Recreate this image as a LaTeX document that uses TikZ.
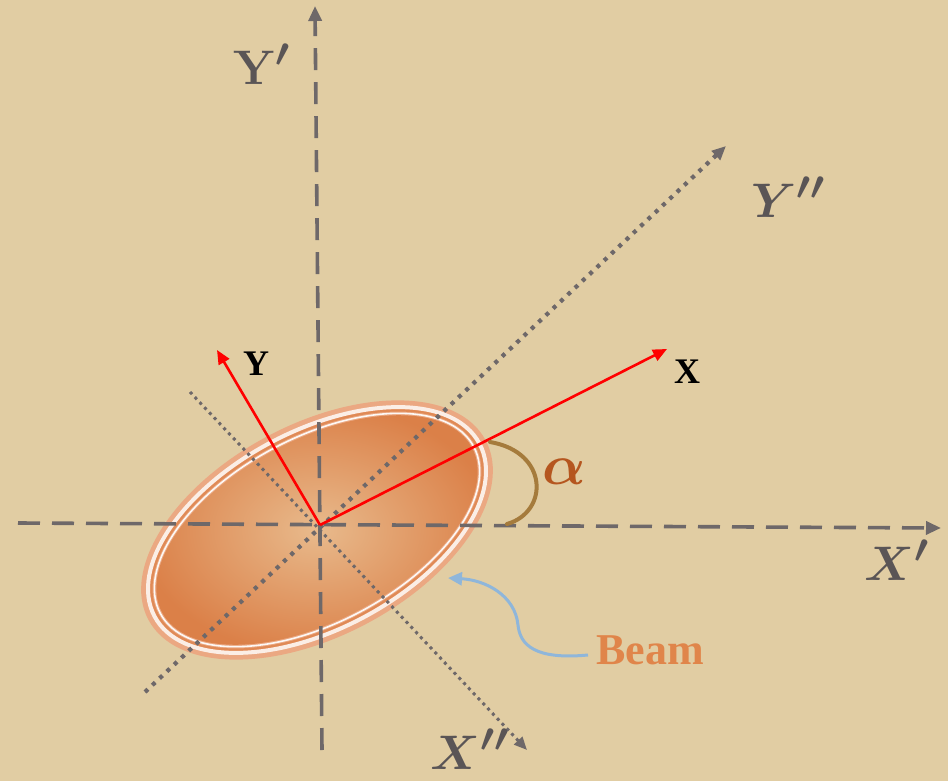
\documentclass[tikz,border=0pt]{standalone}
\usepackage{graphicx}
\usepackage{fontspec}
\newfontfamily\lblfont{Liberation Serif}
\usetikzlibrary{arrows.meta,shapes.geometric}
\definecolor{bg}{HTML}{E1CDA3}
\definecolor{axisgray}{HTML}{6E6869}
\definecolor{lblgray}{HTML}{5A5556}
\definecolor{glow}{HTML}{EBA882}
\definecolor{rimline}{HTML}{E08A56}
\definecolor{beamin}{HTML}{E8BA8C}
\definecolor{beamout}{HTML}{DB8048}
\definecolor{arccol}{HTML}{A57B3C}
\definecolor{alphacol}{HTML}{B5561F}
\definecolor{beamtxt}{HTML}{E0854A}
\definecolor{bluearrow}{HTML}{8FB6DA}
\newcommand{\biglbl}[1]{\scalebox{1.95}{\Huge\boldmath$#1$}}
\tikzset{
  axisdash/.style={draw=axisgray, line width=3.6pt, dash pattern=on 22pt off 12pt,
    -{Triangle[length=15pt,width=13pt]}},
  axisdotA/.style={draw=axisgray, line width=4.2pt, dash pattern=on 4pt off 6pt,
    -{Triangle[length=14pt,width=12pt]}},
  axisdotB/.style={draw=axisgray, line width=3pt, dash pattern=on 3pt off 4pt,
    -{Triangle[length=13pt,width=11pt]}},
  redvec/.style={draw=red, line width=2.6pt, -{Triangle[length=14pt,width=12pt]}},
  axislbl/.style={text=lblgray, inner sep=0pt},
  veclbl/.style={text=black, font=\lblfont\bfseries\fontsize{36}{40}\selectfont, inner sep=0pt},
  beamlayer/.style={ellipse, rotate=28, inner sep=0pt},
}
\begin{document}
\begin{tikzpicture}[x=1pt,y=-1pt]
\fill[bg] (0,0) rectangle (948,781);
\useasboundingbox (0,0) rectangle (948,781);

% beam ellipse layers
\node[beamlayer, fill=glow, minimum width=382pt, minimum height=212pt] (beamglow) at (317,530) {};
\node[beamlayer, draw=white!80!glow, line width=4pt, minimum width=368pt, minimum height=198pt] (beamhalo) at (317,530) {};
\node[beamlayer, draw=rimline, line width=2.2pt, minimum width=361pt, minimum height=191pt] (beamrim) at (317,530) {};
\node[beamlayer, draw=white!92!glow, line width=1.6pt, minimum width=355pt, minimum height=185pt] (beamwhite) at (317,530) {};
\node[beamlayer, inner color=beamin, outer color=beamout, minimum width=351pt, minimum height=181pt] (beamcore) at (317,530) {};

% coordinates
\coordinate (O) at (320,525);
\coordinate (ypb) at (322,750);
\coordinate (ypt) at (315,6);
\coordinate (xpl) at (18,523);
\coordinate (xpr) at (941,528);
\coordinate (yppb) at (145,692);
\coordinate (yppt) at (726,146);
\coordinate (xppt) at (190,392);
\coordinate (xppb) at (527,750);
\coordinate (xtip) at (667,349);
\coordinate (ytip) at (217,350);
\coordinate (arcs) at (490,442);
\coordinate (arce) at (507,524);
\coordinate (bls) at (588,655);
\coordinate (blm) at (518,625);
\coordinate (ble) at (448,578);

% axes
\draw[axisdash] (ypb) -- (ypt);
\draw[axisdash] (xpl) -- (xpr);
\draw[axisdotA] (yppb) -- (yppt);
\draw[axisdotB] (xppt) -- (xppb);

% red vectors
\draw[redvec] (O) -- (xtip);
\draw[redvec] (O) -- (ytip);

% angle arc
\draw[arccol, line width=4pt, line cap=round] (arcs) .. controls (549,452) and (549,512) .. (arce);

% blue arrow
\draw[bluearrow, line width=3pt, -{Triangle[length=14pt,width=13pt]}]
  (bls) .. controls (535,660) and (520,645) .. (blm) .. controls (515,595) and (485,580) .. (ble);

% labels
\node[axislbl] (lYp) at (262,64) {\biglbl{\mathbf{Y}'}};
\node[axislbl] (lYpp) at (788,197) {\biglbl{Y''}};
\node[axislbl] (lXp) at (897,560) {\biglbl{X'}};
\node[axislbl] (lXpp) at (470,749) {\biglbl{X''}};
\node[veclbl] (lX) at (687,372) {X};
\node[veclbl] (lY) at (256,364) {Y};
\node[text=alphacol, inner sep=0pt] (lalpha) at (564,472) {\scalebox{2.3}{\Huge\boldmath$\alpha$}};
\node[text=beamtxt, inner sep=0pt, font=\lblfont\bfseries\fontsize{44}{50}\selectfont] (lbeam) at (650,650) {Beam};
\end{tikzpicture}
\end{document}
